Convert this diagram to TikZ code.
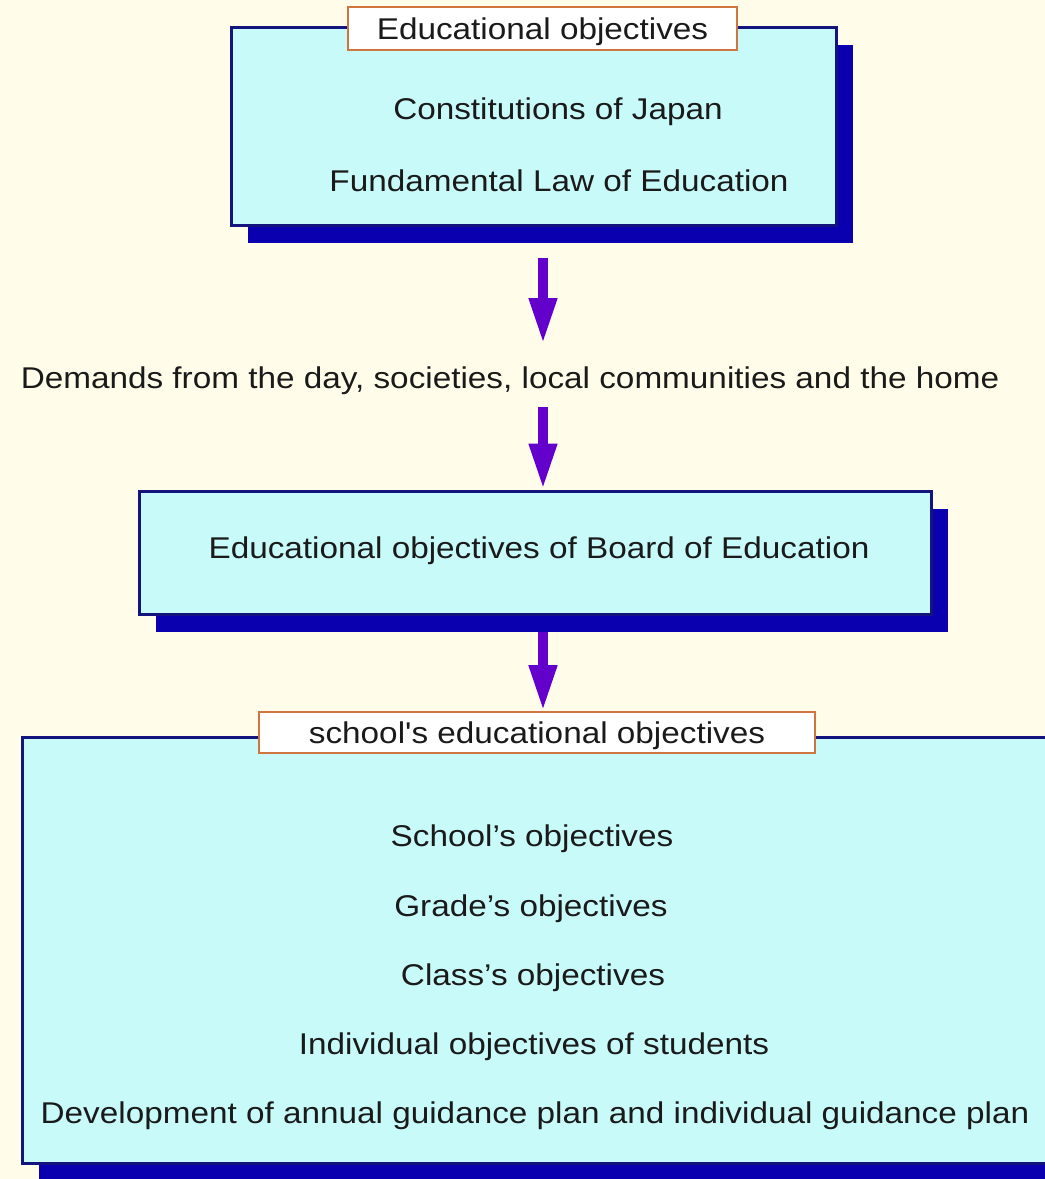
\documentclass[tikz,border=0pt]{standalone}
\usepackage{fontspec}
\setmainfont{Liberation Sans}
\usetikzlibrary{shadows,arrows.meta,calc}

\definecolor{paper}{HTML}{FFFDEA}
\definecolor{boxfill}{HTML}{C8FAFA}
\definecolor{boxline}{HTML}{14147F}
\definecolor{shade}{HTML}{0A00B0}
\definecolor{tagline}{HTML}{D07440}
\definecolor{flowc}{HTML}{6400CC}
\definecolor{ink}{HTML}{1A1A1A}

% slightly widened lettering
\newcommand{\widetext}[1]{\scalebox{1.11}[1]{#1}}

\begin{document}
\begin{tikzpicture}[x=1pt,y=-1pt,
  every node/.style={text=ink, font=\fontsize{30}{36}\selectfont, inner sep=0pt},
  panel/.style={draw=boxline, line width=3pt, fill=boxfill,
    drop shadow={shadow xshift=17pt, shadow yshift=-18pt, fill=shade, opacity=1}},
  tag/.style={draw=tagline, line width=1.6pt, fill=white},
  flow/.style={draw=flowc, line width=10pt,
    -{Triangle[width=26pt,length=46pt]}}
]
% page
\fill[paper] (0,0) rectangle (1045,1179);
\useasboundingbox (0,0) rectangle (1045,1179);

% national level
\node[panel, minimum width=605pt, minimum height=198pt] (top) at (533.5,126) {};
\node[tag, minimum width=389pt, minimum height=43pt] (toptag) at (542.5,28.5) {};
\node (toptxt) at (542.5,32) {\widetext{Educational objectives}};
\node (law1) at (558,112) {\widetext{Constitutions of Japan}};
\node (law2) at (559,181) {\widetext{Fundamental Law of Education}};

% demands of society
\node (demands) at (510,381)
  {\widetext{Demands from the day, societies, local communities and the home}};

% board of education
\node[panel, minimum width=792pt, minimum height=123pt] (board) at (535,552.5) {};
\node (boardtxt) at (539,551) {\widetext{Educational objectives of Board of Education}};

% school level
\node[panel, minimum width=1060pt, minimum height=426pt] (school) at (552,950) {};
\node[tag, minimum width=556pt, minimum height=41pt] (schooltag) at (537,732.5) {};
\node (schooltxt) at (537,736)
  {\widetext{school\textquotesingle s educational objectives}};
\node (s1) at (532,839) {\widetext{School’s objectives}};
\node (s2) at (531,909) {\widetext{Grade’s objectives}};
\node (s3) at (533,978) {\widetext{Class’s objectives}};
\node (s4) at (534,1047) {\widetext{Individual objectives of students}};
\node (s5) at (535,1116) {\widetext{Development of annual guidance plan and individual guidance plan}};

% flow arrows
\coordinate (a1) at (543,258);
\coordinate (e1) at (543,344);
\coordinate (a2) at (543,407);
\coordinate (a3) at (543,632);
\draw[flow] (a1) -- (e1);
\draw[flow] (a2) -- (a2 |- board.north);
\draw[flow] (a3) -- (a3 |- schooltag.north);
\end{tikzpicture}
\end{document}
